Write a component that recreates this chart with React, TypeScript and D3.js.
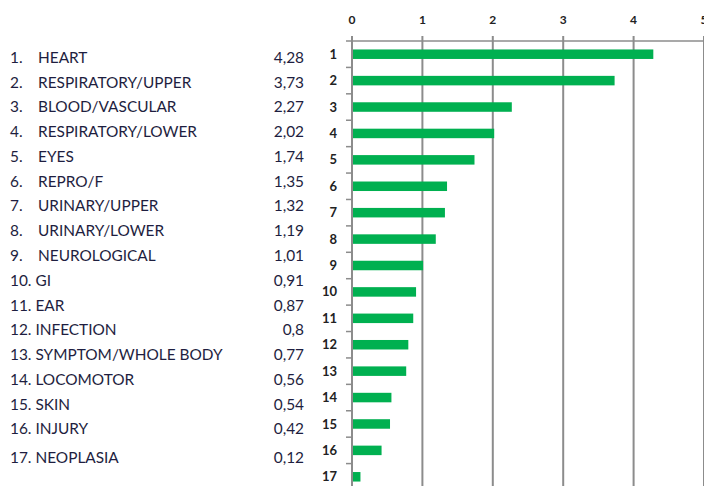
import React from "react";
import * as d3 from "d3";

const ranks = [1, 2, 3, 4, 5, 6, 7, 8, 9, 10, 11, 12, 13, 14, 15, 16, 17];
const names = [
  "HEART",
  "RESPIRATORY/UPPER",
  "BLOOD/VASCULAR",
  "RESPIRATORY/LOWER",
  "EYES",
  "REPRO/F",
  "URINARY/UPPER",
  "URINARY/LOWER",
  "NEUROLOGICAL",
  "GI",
  "EAR",
  "INFECTION",
  "SYMPTOM/WHOLE BODY",
  "LOCOMOTOR",
  "SKIN",
  "INJURY",
  "NEOPLASIA",
];
const values = [4.28, 3.73, 2.27, 2.02, 1.74, 1.35, 1.32, 1.19, 1.01, 0.91, 0.87, 0.8, 0.77, 0.56, 0.54, 0.42, 0.12];
const valueLabels = ["4,28", "3,73", "2,27", "2,02", "1,74", "1,35", "1,32", "1,19", "1,01", "0,91", "0,87", "0,8", "0,77", "0,56", "0,54", "0,42", "0,12"];
const xTicks = [0, 1, 2, 3, 4, 5];

const W = 704;
const H = 486;
const FONT = "Lato, 'Open Sans', sans-serif";

export default function App() {
  const x = d3.scaleLinear().domain([0, 5]).range([352, 704]);
  const y = d3
    .scaleBand<number>()
    .domain(ranks)
    .range([41, 490])
    .paddingInner(0.64)
    .paddingOuter(0.32);
  const bandStep = y.step();
  const bandTop = (r: number) => 41 + (r - 1) * bandStep;
  // left table rows
  const rowY = d3.scaleLinear().domain([0, 15]).range([57.5, 429]);
  const tableY = (i: number) => (i < 16 ? rowY(i) : rowY(15) + 29);

  return (
    <svg width={W} height={H} style={{ position: "absolute", left: 0, top: 0, background: "#fff" }}>
      {/* gridlines */}
      {xTicks.map((t) => (
        <line key={"g" + t} x1={x(t)} x2={x(t)} y1={36} y2={H} stroke="#8c8c8c" strokeWidth={2} />
      ))}
      {/* top axis */}
      <line x1={x(0)} x2={x(5)} y1={41} y2={41} stroke="#8c8c8c" strokeWidth={1.5} />
      {xTicks.map((t) => (
        <text key={"xt" + t} x={x(t)} y={24} textAnchor="middle" fontFamily={FONT} fontSize={12} fontWeight={700} fill="#222">
          {t}
        </text>
      ))}
      {/* y ticks */}
      {ranks.map((r) => (
        <line key={"yt" + r} x1={346} x2={352} y1={bandTop(r)} y2={bandTop(r)} stroke="#8c8c8c" strokeWidth={1.5} />
      ))}
      {/* bars */}
      {ranks.map((r, i) => (
        <rect key={"b" + r} x={x(0) + 1} y={y(r)!} width={x(values[i]) - x(0) - 1} height={y.bandwidth()} fill="#00b050" />
      ))}
      {/* y labels */}
      {ranks.map((r) => (
        <text
          key={"yl" + r}
          x={337}
          y={(y(r) ?? 0) + y.bandwidth() / 2}
          dy="0.35em"
          textAnchor="end"
          fontFamily={FONT}
          fontSize={13}
          fontWeight={700}
          fill="#222"
        >
          {r}
        </text>
      ))}
      {/* left table */}
      {ranks.map((r, i) => (
        <g key={"row" + r} fontFamily={FONT} fontSize={15.4} fill="#1e1e40">
          {r < 10 ? (
            <>
              <text x={10} y={tableY(i)} dy="0.35em">{r + "."}</text>
              <text x={38} y={tableY(i)} dy="0.35em">{names[i]}</text>
            </>
          ) : (
            <text x={10} y={tableY(i)} dy="0.35em">{r + ". " + names[i]}</text>
          )}
          <text x={304} y={tableY(i)} dy="0.35em" textAnchor="end">{valueLabels[i]}</text>
        </g>
      ))}
    </svg>
  );
}
